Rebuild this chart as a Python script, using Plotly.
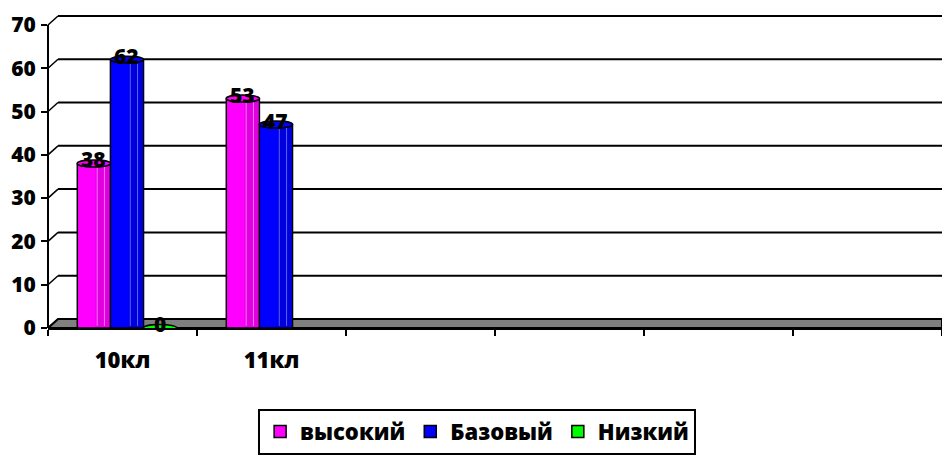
import plotly.graph_objects as go

# Categories and series values
categories = ["10кл", "11кл", "", "", "", ""]
series_names = ["высокий", "Базовый", "Низкий"]
vysokiy = [38, 53, None, None, None, None]
bazovyi = [62, 47, None, None, None, None]
nizkiy = [0, None, None, None, None, None]
y_ticks = [0, 10, 20, 30, 40, 50, 60, 70]

colors = ["#FF00FF", "#0000FF", "#00FF00"]
shade_colors = ["#E000E0", "#0000DC", "#00DC00"]
glint_colors = ["#FF70FF", "#6060FF", "#80FF80"]
series = [vysokiy, bazovyi, nizkiy]

FONT = "Open Sans"
WEIGHT = 800
x_idx = list(range(len(categories)))
bargap = 1 / 3
bar_w = (1 - bargap) / len(series)
group_shift = 0.03  # bars sit slightly right of the category centre (depth effect)

# 3D look: depth offset of the back wall (pixels converted to data/paper units)
plot_w_px = 894
plot_h_px = 313
y_max = 72.3
depth_dx = 10 / plot_w_px
depth_dy = 9 / plot_h_px * y_max
ell_h = 0.8
px_x = len(categories) / plot_w_px  # one pixel in category units

fig = go.Figure()
for k, (name, vals, col) in enumerate(zip(series_names, series, colors)):
    off = (k - len(series) / 2) * bar_w + group_shift
    fig.add_trace(go.Bar(
        x=x_idx, y=vals, name=name, width=bar_w, offset=off,
        marker=dict(color=col, line=dict(color="black", width=1.5)),
    ))

shapes = []
# Floor band between front and back edges
shapes.append(dict(
    type="path", xref="paper", yref="y", layer="below",
    path=f"M 0,0 L 1,0 L 1,{depth_dy} L {depth_dx},{depth_dy} Z",
    fillcolor="#808080", line=dict(color="black", width=2),
))
# Back-wall gridlines and the short depth connectors from the front axis
for v in y_ticks:
    if v > 0:
        shapes.append(dict(
            type="line", xref="paper", yref="y", layer="below",
            x0=depth_dx, x1=1, y0=v + depth_dy, y1=v + depth_dy,
            line=dict(color="black", width=2),
        ))
    shapes.append(dict(
        type="line", xref="paper", yref="y", layer="below",
        x0=0, x1=depth_dx, y0=v, y1=v + depth_dy,
        line=dict(color="black", width=1.5),
    ))
# Front value axis line (0..70)
shapes.append(dict(
    type="line", xref="paper", yref="y", x0=0, x1=0, y0=0, y1=y_ticks[-1],
    line=dict(color="black", width=2),
))

annotations = []
for k, vals in enumerate(series):
    off = (k - (len(series) - 1) / 2) * bar_w + group_shift
    for i, v in enumerate(vals):
        if v is None:
            continue
        cx = i + off
        if v > 0:
            # Cylinder shading: darker right half with two light glints
            shapes.append(dict(
                type="rect", xref="x", yref="y", layer="above",
                x0=cx + 0.05 * bar_w, x1=cx + bar_w / 2 - 1.2 * px_x,
                y0=0.3, y1=v, fillcolor=shade_colors[k], line=dict(width=0),
            ))
            for frac in (0.1, 0.32):
                shapes.append(dict(
                    type="line", xref="x", yref="y", layer="above",
                    x0=cx + frac * bar_w, x1=cx + frac * bar_w, y0=0.5, y1=v,
                    line=dict(color=glint_colors[k], width=1),
                ))
        # Cylinder top
        shapes.append(dict(
            type="circle", xref="x", yref="y", layer="above",
            x0=cx - bar_w / 2, x1=cx + bar_w / 2,
            y0=v - ell_h, y1=v + ell_h,
            fillcolor=colors[k], line=dict(color="black", width=1.5),
        ))
        annotations.append(dict(
            x=cx, y=v, xref="x", yref="y", text=str(v), showarrow=False,
            yshift=4, font=dict(family=FONT, size=21, color="black", weight=WEIGHT),
        ))

fig.update_layout(
    width=942, height=455,
    margin=dict(l=48, r=0, t=15, b=127, autoexpand=False),
    paper_bgcolor="white", plot_bgcolor="white",
    barmode="overlay",
    font=dict(family=FONT, color="black"),
    shapes=shapes, annotations=annotations,
    xaxis=dict(
        range=[-0.5, len(categories) - 0.5],
        tickvals=x_idx, ticktext=categories,
        ticks="", showgrid=False, zeroline=False, automargin=False,
        showline=True, linecolor="black", linewidth=2,
        tickfont=dict(family=FONT, size=22, color="black", weight=WEIGHT),
        ticklabelstandoff=12,
        minor=dict(tick0=0.5, dtick=1, ticks="outside", ticklen=6,
                   tickwidth=2, tickcolor="black"),
    ),
    yaxis=dict(
        range=[0, y_max], tickvals=y_ticks, automargin=False,
        showgrid=False, zeroline=False, showline=False,
        ticks="outside", ticklen=6, tickwidth=2, tickcolor="black",
        ticklabelstandoff=1,
        tickfont=dict(family=FONT, size=21, color="black", weight=WEIGHT),
    ),
    legend=dict(
        orientation="h", x=0.48, xanchor="center", y=-0.258, yanchor="top",
        bgcolor="white", bordercolor="black", borderwidth=2,
        font=dict(family=FONT, size=22, color="black", weight=WEIGHT),
        itemwidth=30, traceorder="normal", tracegroupgap=0,
    ),
)

fig.write_html("out.html")
